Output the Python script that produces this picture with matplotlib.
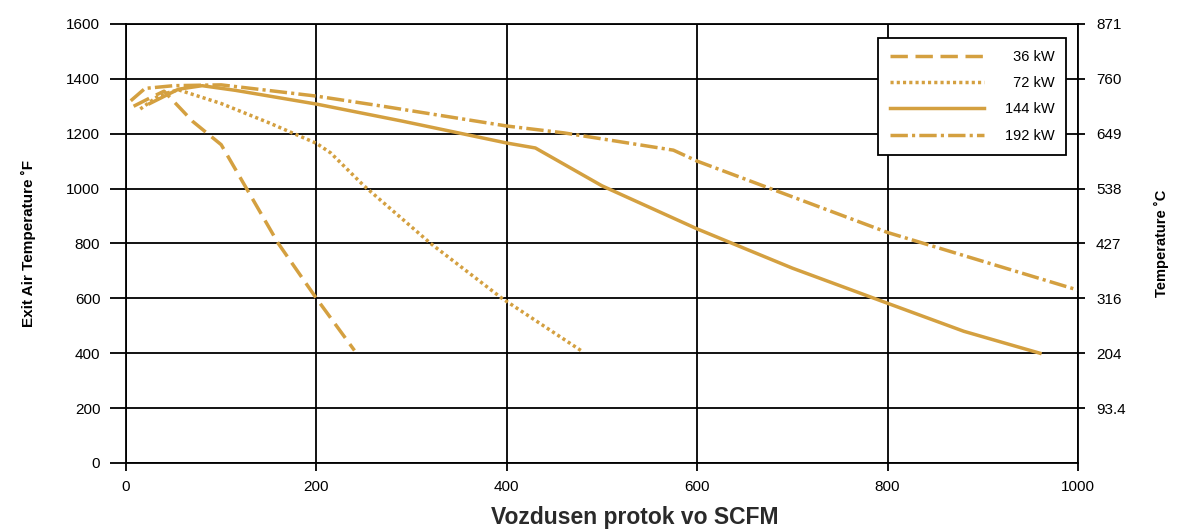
import matplotlib
matplotlib.use("Agg")
import matplotlib.pyplot as plt

plt.rcParams['font.family'] = ['Liberation Sans', 'DejaVu Sans']

# data (x in SCFM, y in deg F)
x_36 = [8, 25, 40, 70, 100, 125, 160, 200, 240]
y_36 = [1300, 1330, 1355, 1245, 1160, 1010, 800, 600, 410]

x_72 = [15, 35, 55, 100, 150, 200, 215, 250, 320, 395, 480]
y_72 = [1290, 1340, 1360, 1310, 1240, 1165, 1130, 1010, 800, 600, 405]

x_144 = [25, 55, 80, 115, 200, 290, 400, 430, 500, 600, 700, 800, 880, 960]
y_144 = [1310, 1362, 1375, 1358, 1308, 1246, 1166, 1148, 1010, 853, 710, 582, 480, 400]

x_192 = [5, 20, 50, 100, 200, 270, 400, 460, 575, 600, 670, 800, 840, 1000]
y_192 = [1320, 1365, 1375, 1378, 1337, 1300, 1228, 1203, 1140, 1100, 1009, 840, 798, 630]

labels = ["36 kW", "72 kW", "144 kW", "192 kW"]
f_ticks = [0, 200, 400, 600, 800, 1000, 1200, 1400, 1600]
c_ticks = [200, 400, 600, 800, 1000, 1200, 1400, 1600]
c_labels = ["93.4", "204", "316", "427", "538", "649", "760", "871"]
x_ticks = [0, 200, 400, 600, 800, 1000]

col = "#d4a040"

fig = plt.figure(figsize=(11.84, 5.32), dpi=100)
ax = fig.add_axes([0.1064, 0.1297, 0.8041, 0.8253])

# figure spaces pad the short labels so the legend text lines up on the right
pad = max(len(l) for l in labels)
leg_labels = ["\u2007" * (pad - len(l)) + l for l in labels]

ax.plot(x_36, y_36, color=col, lw=2.5, dashes=(5, 2.2), label=leg_labels[0])
ax.plot(x_72, y_72, color=col, lw=2.5, dashes=(0.9, 0.9), label=leg_labels[1])
ax.plot(x_144, y_144, color=col, lw=2.5, label=leg_labels[2])
ax.plot(x_192, y_192, color=col, lw=2.5, dashes=(5, 1.2, 0.9, 1.2), label=leg_labels[3])

ax.set_xlim(0, 1000)
ax.set_ylim(0, 1600)
ax.set_xticks(x_ticks)
ax.set_yticks(f_ticks)
ax.grid(True, color="black", lw=1.3)
ax.set_axisbelow(True)
for s in ax.spines.values():
    s.set_color("black")
    s.set_linewidth(1.3)
ax.tick_params(axis="y", length=11.5, width=1.3, labelsize=11, pad=7)
ax.tick_params(axis="x", length=6, width=1.3, labelsize=11, pad=6)

ax.set_xlabel("Vozdusen protok vo SCFM", fontsize=16.5, fontweight="bold",
              color="#2a2a2a")
ax.xaxis.set_label_coords(0.534, -0.098)
ax.set_ylabel("Exit Air Temperature ˚F", fontsize=11, fontweight="bold",
              labelpad=22)

ax2 = ax.twinx()
ax2.set_ylim(0, 1600)
ax2.set_yticks(c_ticks)
ax2.set_yticklabels(c_labels)
ax2.tick_params(axis="y", length=5, width=1.3, labelsize=11, pad=8)
for s in ax2.spines.values():
    s.set_visible(False)
ax2.set_ylabel("Temperature ˚C", fontsize=10.5, fontweight="bold", labelpad=20)

leg = ax.legend(loc="upper right", bbox_to_anchor=(0.9874, 0.968),
                borderaxespad=0, fontsize=10.5, handlelength=6.5,
                handletextpad=1.4, labelspacing=0.85, borderpad=0.8,
                fancybox=False, framealpha=1, edgecolor="black")
leg.get_frame().set_linewidth(1.3)

fig.savefig("out.png", dpi=100)
